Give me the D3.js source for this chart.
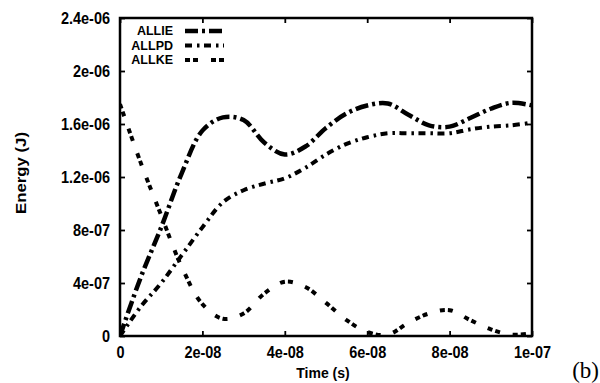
<!DOCTYPE html>
<html>
<head>
<meta charset="utf-8">
<script src="https://cdn.jsdelivr.net/npm/d3@7"></script>
<style>
  body { margin: 0; background: #fff; }
  text { font-family: "Liberation Sans", Arial, sans-serif; font-weight: bold; fill: #000; }
</style>
</head>
<body>
<div id="chartArea"></div>
<script>
const width = 600;
const height = 383;
const margin = { top: 18, left: 120, right: 68, bottom: 47 };

// time (s)
const times = [0, 0.5e-8, 1e-8, 1.5e-8, 2e-8, 2.5e-8, 3e-8, 3.5e-8, 4e-8, 4.5e-8, 5e-8,
    5.5e-8, 6e-8, 6.5e-8, 7e-8, 7.5e-8, 8e-8, 8.5e-8, 9e-8, 9.5e-8, 1e-7];

// energies, in 1e-6 J
const allIE = [0, 0.44, 0.82, 1.23, 1.55, 1.65, 1.63, 1.46, 1.37, 1.43, 1.57,
    1.68, 1.74, 1.755, 1.67, 1.59, 1.58, 1.645, 1.715, 1.76, 1.74];
const allPD = [0, 0.22, 0.40, 0.61, 0.82, 1.01, 1.10, 1.15, 1.19, 1.27, 1.37,
    1.45, 1.50, 1.53, 1.53, 1.53, 1.53, 1.56, 1.58, 1.59, 1.61];
const allKE = [1.75, 1.31, 0.91, 0.52, 0.24, 0.13, 0.17, 0.32, 0.41, 0.37, 0.25,
    0.12, 0.03, 0.01, 0.10, 0.17, 0.195, 0.12, 0.05, 0.01, 0.02];

const seriesNames = ["ALLIE", "ALLPD", "ALLKE"];
const xTicks = [0, 2e-8, 4e-8, 6e-8, 8e-8, 1e-7];
const xTickLabels = ["0", "2e-08", "4e-08", "6e-08", "8e-08", "1e-07"];
const yTicks = [0, 4e-7, 8e-7, 1.2e-6, 1.6e-6, 2e-6, 2.4e-6];
const yTickLabels = ["0", "4e-07", "8e-07", "1.2e-06", "1.6e-06", "2e-06", "2.4e-06"];

const dashes = ["13,4,3,4", "7,5,2.5,4.5", "5,3,5,13"];
const widths = [4.5, 4, 4];

const plotW = width - margin.left - margin.right;
const plotH = height - margin.top - margin.bottom;

const svg = d3.select("#chartArea")
    .append("svg")
    .attr("width", width)
    .attr("height", height);

const x = d3.scaleLinear().domain([0, 1e-7]).range([margin.left, margin.left + plotW]);
const y = d3.scaleLinear().domain([0, 2.4e-6]).range([margin.top + plotH, margin.top]);

const stretch = "scale(1,1.12)";

// axes with inward ticks
const yAxis = svg.append("g")
    .attr("transform", `translate(${margin.left},0)`)
    .call(d3.axisLeft(y).tickValues(yTicks).tickSize(-5).tickPadding(10)
        .tickFormat((d, i) => yTickLabels[i]));
yAxis.selectAll("text").attr("transform", stretch).style("font-size", "14.5px");

const xAxis = svg.append("g")
    .attr("transform", `translate(0,${margin.top + plotH})`)
    .call(d3.axisBottom(x).tickValues(xTicks).tickSize(-5)
        .tickFormat((d, i) => xTickLabels[i]));
xAxis.selectAll("text")
    .attr("y", 0)
    .attr("dy", "0.35em")
    .attr("transform", "translate(0,16) " + stretch)
    .style("font-size", "14.5px");

svg.append("g")
    .attr("transform", `translate(0,${margin.top})`)
    .call(d3.axisTop(x).tickValues(xTicks).tickSize(-5).tickFormat(""));
svg.append("g")
    .attr("transform", `translate(${margin.left + plotW},0)`)
    .call(d3.axisRight(y).tickValues(yTicks).tickSize(-5).tickFormat(""));

svg.selectAll(".domain").remove();
svg.selectAll(".tick line").attr("stroke", "#000").attr("stroke-width", 1.8);

svg.append("rect")
    .attr("x", margin.left)
    .attr("y", margin.top)
    .attr("width", plotW)
    .attr("height", plotH)
    .attr("fill", "none")
    .attr("stroke", "#000")
    .attr("stroke-width", 2.5);

// lines
svg.append("clipPath").attr("id", "clip")
    .append("rect")
    .attr("x", margin.left).attr("y", margin.top - 5)
    .attr("width", plotW).attr("height", plotH + 5);

const line = d3.line()
    .x((d, i) => x(times[i]))
    .y(d => y(d * 1e-6))
    .curve(d3.curveCatmullRom.alpha(0.5));

[allIE, allPD, allKE].forEach((vals, k) => {
    svg.append("path")
        .attr("clip-path", "url(#clip)")
        .attr("d", line(vals))
        .attr("fill", "none")
        .attr("stroke", "#000")
        .attr("stroke-width", widths[k])
        .attr("stroke-dasharray", dashes[k]);
});

// legend
const legend = svg.append("g");
seriesNames.forEach((name, k) => {
    const ly = 31 + k * 14.5;
    legend.append("text")
        .attr("x", 173)
        .attr("y", ly)
        .attr("text-anchor", "end")
        .attr("dy", "0.35em")
        .style("font-size", "12.5px")
        .text(name);
    legend.append("line")
        .attr("x1", 185).attr("x2", 224)
        .attr("y1", ly).attr("y2", ly)
        .attr("stroke", "#000")
        .attr("stroke-width", widths[k])
        .attr("stroke-dasharray", dashes[k]);
});

// axis titles
svg.append("text")
    .attr("x", 323)
    .attr("y", 373)
    .attr("text-anchor", "middle")
    .attr("dy", "0.35em")
    .style("font-size", "14px")
    .text("Time (s)");

svg.append("text")
    .attr("transform", "translate(21,173) rotate(-90)")
    .attr("text-anchor", "middle")
    .attr("dy", "0.35em")
    .attr("textLength", 82)
    .attr("lengthAdjust", "spacingAndGlyphs")
    .style("font-size", "14px")
    .text("Energy (J)");

svg.append("text")
    .attr("x", 599)
    .attr("y", 378)
    .attr("text-anchor", "end")
    .style("font-family", "'Liberation Serif', 'Times New Roman', serif")
    .style("font-weight", "normal")
    .style("font-size", "23px")
    .text("(b)");
</script>
</body>
</html>
